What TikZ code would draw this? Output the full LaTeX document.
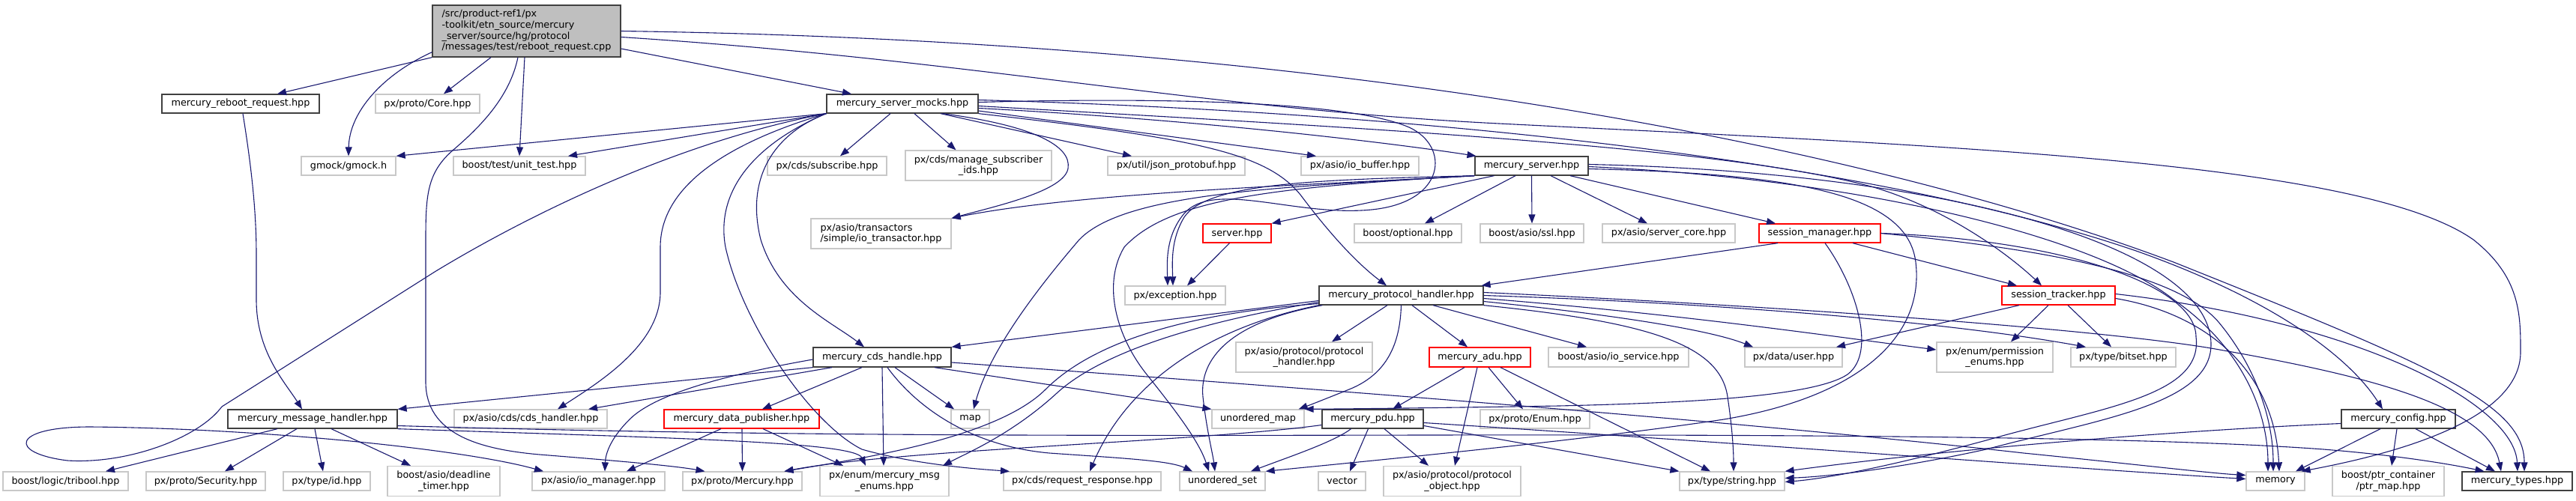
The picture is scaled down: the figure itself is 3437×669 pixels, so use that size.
\documentclass[tikz,border=0pt]{standalone}
\usepackage{fontspec}
\setmainfont{DejaVu Sans}
\usepackage{tikz}
\usetikzlibrary{arrows.meta}
\definecolor{depblue}{RGB}{25,25,112}
\definecolor{extgray}{RGB}{200,200,200}
\definecolor{rootgray}{RGB}{191,191,191}
\newcommand{\dxfont}{\fontsize{12.8}{14.7}\selectfont}

\begin{document}
\begin{tikzpicture}[x=1pt,y=-1pt,
    every node/.style={font=\dxfont,inner sep=0pt,minimum height=25pt,align=center},
    inc/.style={draw=black!75,line width=1.3pt},
    ext/.style={draw=extgray,line width=1.3pt},
    bad/.style={draw=red,line width=1.3pt},
    rootbox/.style={draw=black!75,line width=1.3pt,fill=rootgray,align=left},
    dep/.style={depblue,line width=1.1pt,-{Triangle[length=12pt,width=9pt]}}]
    \useasboundingbox (0,0) rectangle (3437,669);

    % Files
    \node[rootbox,minimum width=251pt,minimum height=69pt] (root) at (702.5,41.5)
      {/src/product-ref1/px\\-toolkit/etn\_source/mercury\\\_server/source/hg/protocol\\/messages/test/reboot\_request.cpp};
    \node[inc,minimum width=210pt] (rebootreq) at (321,138.5) {mercury\_reboot\_request.hpp};
    \node[ext,minimum width=139pt] (core) at (570.5,138.5) {px/proto/Core.hpp};
    \node[inc,minimum width=202pt] (mocks) at (1204,138.5) {mercury\_server\_mocks.hpp};

    \node[ext,minimum width=126pt] (gmock) at (465,221.5) {gmock/gmock.h};
    \node[ext,minimum width=176pt] (unittest) at (693,221.5) {boost/test/unit\_test.hpp};
    \node[ext,minimum width=159pt] (subscribe) at (1103.5,221.5) {px/cds/subscribe.hpp};
    \node[ext,minimum width=195pt,minimum height=40pt] (managesub) at (1305.5,221) {px/cds/manage\_subscriber\\\_ids.hpp};
    \node[ext,minimum width=183pt] (jsonpb) at (1569.5,221.5) {px/util/json\_protobuf.hpp};
    \node[ext,minimum width=157pt] (iobuffer) at (1814.5,221.5) {px/asio/io\_buffer.hpp};
    \node[inc,minimum width=151pt] (mserver) at (2043.5,221.5) {mercury\_server.hpp};

    \node[ext,minimum width=187pt,minimum height=40pt,align=left] (transactor) at (1175.5,312) {px/asio/transactors\\/simple/io\_transactor.hpp};
    \node[bad,minimum width=91pt] (serverhpp) at (1650.5,311.5) {server.hpp};
    \node[ext,minimum width=143pt] (optional) at (1878.5,311.5) {boost/optional.hpp};
    \node[ext,minimum width=138pt] (ssl) at (2044,311.5) {boost/asio/ssl.hpp};
    \node[ext,minimum width=177pt] (servercore) at (2226.5,311.5) {px/asio/server\_core.hpp};
    \node[bad,minimum width=162pt] (sessmgr) at (2428,311.5) {session\_manager.hpp};

    \node[ext,minimum width=134pt] (exception) at (1568,394.5) {px/exception.hpp};
    \node[inc,minimum width=219pt] (prothandler) at (1869.5,394.5) {mercury\_protocol\_handler.hpp};
    \node[bad,minimum width=151pt] (sesstracker) at (2746.5,394.5) {session\_tracker.hpp};

    \node[inc,minimum width=184pt,minimum height=26pt] (cdshandle) at (1177,477) {mercury\_cds\_handle.hpp};
    \node[ext,minimum width=182pt,minimum height=40pt] (pxprothandler) at (1740,477) {px/asio/protocol/protocol\\\_handler.hpp};
    \node[bad,minimum width=135pt,minimum height=26pt] (adu) at (1974.5,477) {mercury\_adu.hpp};
    \node[ext,minimum width=187pt,minimum height=26pt] (ioservice) at (2159.5,477) {boost/asio/io\_service.hpp};
    \node[ext,minimum width=130pt,minimum height=26pt] (user) at (2393,477) {px/data/user.hpp};
    \node[ext,minimum width=155pt,minimum height=40pt] (permenums) at (2661.5,477) {px/enum/permission\\\_enums.hpp};
    \node[ext,minimum width=140pt,minimum height=26pt] (bitset) at (2833,477) {px/type/bitset.hpp};

    \node[inc,minimum width=226pt] (msghandler) at (417,559.5) {mercury\_message\_handler.hpp};
    \node[ext,minimum width=204pt] (cdshandler) at (708,559.5) {px/asio/cds/cds\_handler.hpp};
    \node[bad,minimum width=207pt] (datapub) at (989.5,559.5) {mercury\_data\_publisher.hpp};
    \node[ext,minimum width=51pt] (map) at (1294.5,559.5) {map};
    \node[ext,minimum width=123pt] (umap) at (1678.5,559.5) {unordered\_map};
    \node[inc,minimum width=135pt] (pdu) at (1831.5,559.5) {mercury\_pdu.hpp};
    \node[ext,minimum width=146pt] (enumhpp) at (2048,559.5) {px/proto/Enum.hpp};
    \node[inc,minimum width=152pt] (config) at (3200,559.5) {mercury\_config.hpp};

    \node[ext,minimum width=167pt] (tribool) at (87.5,642.5) {boost/logic/tribool.hpp};
    \node[ext,minimum width=159pt] (security) at (274.5,642.5) {px/proto/Security.hpp};
    \node[ext,minimum width=116pt] (idhpp) at (436,642.5) {px/type/id.hpp};
    \node[ext,minimum width=150pt,minimum height=40pt] (deadline) at (592,642.5) {boost/asio/deadline\\\_timer.hpp};
    \node[ext,minimum width=177pt] (iomanager) at (798.5,642.5) {px/asio/io\_manager.hpp};
    \node[ext,minimum width=159pt] (mercuryproto) at (990.5,642.5) {px/proto/Mercury.hpp};
    \node[ext,minimum width=172pt,minimum height=40pt] (msgenums) at (1180,642.5) {px/enum/mercury\_msg\\\_enums.hpp};
    \node[ext,minimum width=210pt] (reqresp) at (1444,642.5) {px/cds/request\_response.hpp};
    \node[ext,minimum width=114pt] (uset) at (1631,642.5) {unordered\_set};
    \node[ext,minimum width=63pt] (vector) at (1790.5,642.5) {vector};
    \node[ext,minimum width=183pt,minimum height=40pt] (protobj) at (1937.5,642.5) {px/asio/protocol/protocol\\\_object.hpp};
    \node[ext,minimum width=140pt] (string) at (2311,642.5) {px/type/string.hpp};
    \node[ext,minimum width=78pt] (memory) at (3036,642.5) {memory};
    \node[ext,minimum width=149pt,minimum height=40pt] (ptrmap) at (3186.5,642.5) {boost/ptr\_container\\/ptr\_map.hpp};
    \node[inc,minimum width=147pt] (types) at (3358.5,642.5) {mercury\_types.hpp};

    % reboot_request.cpp
    \draw[dep] (root.south west) -- ([xshift=49pt]rebootreq.north);
    \draw[dep] ([yshift=7pt]root.south west) .. controls (510,100) and (466,150) .. (gmock.north);
    \draw[dep] ([xshift=-47.5pt]root.south) -- ([xshift=21.5pt]core.north);
    \draw[dep] ([xshift=-2.5pt]root.south) -- (unittest.north);
    \draw[dep] ([xshift=-11.5pt]root.south) .. controls (680,130) and (640,170) .. (605,200)
      .. controls (570,230) and (568,260) .. (568,320) -- (568,510)
      .. controls (568,580) and (640,600) .. (720,607) .. controls (820,615) and (900,622) .. ([xshift=-50pt]mercuryproto.north);
    \draw[dep] ([yshift=-23.5pt]root.east) -- ([xshift=-68pt]mocks.north);
    \draw[dep] (root.east) .. controls (1800,55) and (2500,200) .. (2900,350)
      .. controls (3250,490) and (3368,540) .. ([xshift=9.5pt]types.north);
    \draw[dep] ([yshift=-8pt]root.east) .. controls (1300,80) and (1600,145) .. (2000,165)
      .. controls (2600,195) and (3150,215) .. (3300,320) .. controls (3363,370) and (3363,420) .. (3363,470)
      .. controls (3363,560) and (3200,605) .. ([xshift=-5pt]memory.north east);
    \draw[dep] ([xshift=3pt]rebootreq.south) .. controls (335,220) and (342,280) .. (342,340) -- (342,400)
      .. controls (342,470) and (380,510) .. ([xshift=-14pt]msghandler.north);

    % mercury_server_mocks.hpp
    \draw[dep] (mocks.south west) -- (gmock.north east);
    \draw[dep] (mocks.south west) -- ([xshift=65pt]unittest.north);
    \draw[dep] (mocks.south west) .. controls (900,190) and (700,290) .. (580,363) -- (296,543)
      .. controls (265,585) and (170,620) .. (90,615) .. controls (10,605) and (15,570) .. (120,570)
      .. controls (350,572) and (620,600) .. ([xshift=-73.5pt]iomanager.north);
    \draw[dep] ([xshift=-16pt]mocks.south) -- ([xshift=17.5pt]subscribe.north);
    \draw[dep] ([xshift=16pt]mocks.south) -- ([xshift=-30pt]managesub.north);
    \draw[dep] ([xshift=51pt]mocks.south) -- ([xshift=-59.5pt]jsonpb.north);
    \draw[dep] ([yshift=-9.5pt]mocks.east) -- ([xshift=-58.5pt]iobuffer.north);
    \draw[dep] ([yshift=-6pt]mocks.east) .. controls (1600,160) and (1850,190) .. ([xshift=-74pt]mserver.north);
    \draw[dep] ([xshift=54pt]mocks.south) .. controls (1380,168) and (1430,195) .. (1425,225)
      .. controls (1420,255) and (1330,275) .. (transactor.north east);
    \draw[dep] (mocks.south east) .. controls (1600,185) and (1690,205) .. (1735,260)
      .. controls (1780,320) and (1815,355) .. ([xshift=-19.5pt]prothandler.north);
    \draw[dep] ([yshift=2pt]mocks.east) .. controls (1550,130) and (1800,135) .. (1880,170)
      .. controls (1935,195) and (1930,270) .. (1830,280) .. controls (1730,290) and (1620,240) .. (1580,285)
      .. controls (1555,315) and (1557,350) .. ([xshift=-10pt]exception.north);
    \draw[dep] (mocks.south west) .. controls (990,185) and (881,240) .. (881,330) -- (881,390)
      .. controls (881,460) and (800,510) .. ([xshift=36pt]cdshandler.north);
    \draw[dep] (mocks.south west) .. controls (1000,195) and (955,260) .. (968,330)
      .. controls (990,430) and (1080,565) .. (1150,600) .. controls (1220,620) and (1300,626) .. ([xshift=-97pt]reqresp.north);
    \draw[dep] (mocks.south west) .. controls (1030,180) and (995,240) .. (1015,320)
      .. controls (1040,400) and (1110,430) .. ([xshift=-24pt]cdshandle.north);
    \draw[dep] ([yshift=5pt]mocks.east) .. controls (1900,150) and (2500,215) .. (2850,335)
      .. controls (3020,395) and (3130,470) .. ([xshift=-21pt]config.north);
    \draw[dep] ([yshift=-3pt]mocks.east) .. controls (1800,170) and (2300,195) .. (2500,250)
      .. controls (2600,280) and (2680,340) .. ([xshift=-22.5pt]sesstracker.north);

    % mercury_server.hpp
    \draw[dep] (mserver.south west) .. controls (1800,245) and (1450,255) .. (transactor.north east);
    \draw[dep] ([xshift=-50pt]mserver.south) -- (serverhpp.north east);
    \draw[dep] (mserver.south west) .. controls (1700,250) and (1500,258) .. (1440,320)
      .. controls (1380,390) and (1320,470) .. ([xshift=4.5pt]map.north);
    \draw[dep] (mserver.south west) .. controls (1750,240) and (1610,245) .. (1580,290)
      .. controls (1562,320) and (1564,350) .. ([xshift=-3pt]exception.north);
    \draw[dep] (mserver.south west) .. controls (1700,250) and (1560,265) .. (1500,330)
      .. controls (1470,380) and (1490,450) .. (1530,500) .. controls (1570,550) and (1600,590) .. ([xshift=-18pt]uset.north);
    \draw[dep] ([xshift=-21.5pt]mserver.south) -- ([xshift=22.5pt]optional.north);
    \draw[dep] (mserver.south) -- (ssl.north);
    \draw[dep] ([xshift=25.5pt]mserver.south) -- ([xshift=-28.5pt]servercore.north);
    \draw[dep] ([xshift=51.5pt]mserver.south) -- ([xshift=-59pt]sessmgr.north);
    \draw[dep] ([yshift=-4pt]mserver.east) .. controls (2400,232) and (2545,260) .. (2556,350)
      .. controls (2568,450) and (2480,530) .. (2300,560) .. controls (2100,590) and (1800,618) .. (uset.north east);
    \draw[dep] ([yshift=-1pt]mserver.east) .. controls (2500,240) and (2800,320) .. (2900,400)
      .. controls (3000,470) and (3026,560) .. ([xshift=-10pt]memory.north);
    \draw[dep] ([yshift=2pt]mserver.east) .. controls (2600,230) and (2950,330) .. (2950,460)
      .. controls (2950,540) and (2800,560) .. (2650,600) .. controls (2550,622) and (2450,636) .. ([yshift=4pt]string.east);
    \draw[dep] ([xshift=-10pt]serverhpp.south) -- ([xshift=16pt]exception.north);

    % session_manager.hpp
    \draw[dep] ([xshift=-56pt]sessmgr.south) -- ([xshift=-3pt]prothandler.north east);
    \draw[dep] ([xshift=44pt]sessmgr.south) -- ([xshift=-55.5pt]sesstracker.north);
    \draw[dep] ([xshift=7pt]sessmgr.south) .. controls (2475,380) and (2505,470) .. (2465,500)
      .. controls (2420,530) and (2250,538) .. (2080,542) .. controls (1900,545) and (1790,546) .. (umap.north east);
    \draw[dep] (sessmgr.east) .. controls (2700,330) and (2900,360) .. (2960,430)
      .. controls (3010,490) and (3033,560) .. ([xshift=-3pt]memory.north);
    \draw[dep] (sessmgr.east) .. controls (2750,320) and (2930,380) .. (2930,450)
      .. controls (2940,530) and (2800,545) .. (2650,588) .. controls (2550,615) and (2450,638) .. ([yshift=-1pt]string.east);

    % session_tracker.hpp
    \draw[dep] ([xshift=-52.5pt]sesstracker.south) -- ([xshift=57pt]user.north);
    \draw[dep] ([xshift=-13.5pt]sesstracker.south) -- ([xshift=21.5pt]permenums.north);
    \draw[dep] ([xshift=12.5pt]sesstracker.south) -- ([xshift=-16pt]bitset.north);
    \draw[dep] ([yshift=-4pt]sesstracker.east) .. controls (2950,420) and (3035,500) .. ([xshift=5pt]memory.north);
    \draw[dep] ([yshift=2pt]sesstracker.east) .. controls (3150,430) and (3355,540) .. ([xshift=0.5pt]types.north);

    % mercury_protocol_handler.hpp
    \draw[dep] ([xshift=-18.5pt]prothandler.south) -- ([xshift=37pt]pxprothandler.north);
    \draw[dep] ([xshift=14.5pt]prothandler.south) -- ([xshift=-16.5pt]adu.north);
    \draw[dep] ([xshift=42.5pt]prothandler.south) -- ([xshift=-42.5pt]ioservice.north);
    \draw[dep] (prothandler.south) .. controls (1868,460) and (1850,500) .. (1800,520)
      .. controls (1770,532) and (1750,540) .. ([xshift=-8pt]umap.north east);
    \draw[dep] ([yshift=-7pt]prothandler.west) -- (cdshandle.north east);
    \draw[dep] ([yshift=-9pt]prothandler.west) .. controls (1600,430) and (1470,470) .. (1410,525)
      .. controls (1350,580) and (1290,605) .. ([xshift=78pt]msgenums.north);
    \draw[dep] ([yshift=-11pt]prothandler.west) .. controls (1560,420) and (1450,465) .. (1395,520)
      .. controls (1330,585) and (1150,612) .. ([xshift=56pt]mercuryproto.north);
    \draw[dep] (prothandler.south west) .. controls (1600,440) and (1500,520) .. ([xshift=10pt]reqresp.north);
    \draw[dep] ([xshift=5pt]prothandler.south west) .. controls (1640,430) and (1600,480) .. (1605,530)
      .. controls (1610,575) and (1618,605) .. ([xshift=-10pt]uset.north);
    \draw[dep] ([yshift=-8pt]prothandler.east) .. controls (2150,420) and (2280,440) .. ([xshift=-54pt]user.north);
    \draw[dep] ([yshift=-4pt]prothandler.east) .. controls (2250,420) and (2450,450) .. ([yshift=10pt]permenums.west);
    \draw[dep] (prothandler.east) .. controls (2300,405) and (2600,430) .. ([xshift=-50pt]bitset.north);
    \draw[dep] ([yshift=4pt]prothandler.east) .. controls (2400,410) and (2800,440) .. (2950,465)
      .. controls (3150,500) and (3320,540) .. ([xshift=-21.5pt]types.north);
    \draw[dep] (prothandler.south east) .. controls (2200,430) and (2295,460) .. (2305,530)
      .. controls (2311,570) and (2313,600) .. ([xshift=2pt]string.north);

    % mercury_adu.hpp and mercury_pdu.hpp
    \draw[dep] ([xshift=-20.5pt]adu.south) -- ([xshift=26.5pt]pdu.north);
    \draw[dep] ([xshift=-3.5pt]adu.south) -- ([xshift=3.5pt]protobj.north);
    \draw[dep] ([xshift=11.5pt]adu.south) -- ([xshift=-16pt]enumhpp.north);
    \draw[dep] ([xshift=27.5pt]adu.south) -- ([xshift=-29pt]string.north);
    \draw[dep] ([xshift=-6pt]pdu.south) -- ([xshift=10.5pt]vector.north);
    \draw[dep] ([xshift=15.5pt]pdu.south) -- ([xshift=-31.5pt]protobj.north);
    \draw[dep] ([yshift=-9pt]pdu.east) -- (string.north west);
    \draw[dep] ([yshift=-5pt]pdu.east) .. controls (2300,590) and (2800,628) .. ([yshift=3pt]memory.west);
    \draw[dep] ([xshift=-29pt]pdu.south) .. controls (1780,590) and (1720,610) .. ([xshift=38pt]uset.north);
    \draw[dep] ([yshift=-8pt]pdu.west) .. controls (1600,590) and (1200,600) .. ([xshift=56pt]mercuryproto.north);

    % mercury_cds_handle.hpp
    \draw[dep] (cdshandle.south west) -- (msghandler.north east);
    \draw[dep] ([xshift=-67pt]cdshandle.south) -- ([xshift=77pt]cdshandler.north);
    \draw[dep] ([yshift=-3pt]cdshandle.west) .. controls (1000,495) and (880,520) .. (840,560)
      .. controls (815,585) and (808,605) .. ([xshift=8.5pt]iomanager.north);
    \draw[dep] ([xshift=-27pt]cdshandle.south) -- ([xshift=27.5pt]datapub.north);
    \draw[dep] (cdshandle.south) -- ([xshift=-1pt]msgenums.north);
    \draw[dep] ([xshift=17pt]cdshandle.south) -- ([xshift=-21.5pt]map.north);
    \draw[dep] ([xshift=7pt]cdshandle.south) .. controls (1220,540) and (1290,595) .. (1400,605)
      .. controls (1500,612) and (1560,615) .. ([xshift=-40pt]uset.north);
    \draw[dep] ([xshift=70pt]cdshandle.south) -- (umap.north west);
    \draw[dep] ([yshift=-7pt]cdshandle.east) .. controls (1700,515) and (2300,560) .. (2700,605)
      .. controls (2850,620) and (2950,632) .. ([yshift=8pt]memory.west);

    % mercury_data_publisher.hpp
    \draw[dep] ([xshift=-27.5pt]datapub.south) -- ([xshift=37.5pt]iomanager.north);
    \draw[dep] ([xshift=0.5pt]datapub.south) -- (mercuryproto.north);
    \draw[dep] ([xshift=28.5pt]datapub.south) -- ([xshift=-55pt]msgenums.north);

    % mercury_message_handler.hpp
    \draw[dep] ([xshift=-47pt]msghandler.south) -- ([xshift=53.5pt]tribool.north);
    \draw[dep] ([xshift=-21pt]msghandler.south) -- ([xshift=25.5pt]security.north);
    \draw[dep] ([xshift=3pt]msghandler.south) -- ([xshift=-5pt]idhpp.north);
    \draw[dep] ([xshift=25pt]msghandler.south) -- ([xshift=-44pt]deadline.north);
    \draw[dep] (msghandler.south east) .. controls (900,585) and (1140,590) .. ([xshift=-25pt]msgenums.north);
    \draw[dep] ([yshift=-9pt]msghandler.east) .. controls (1000,582) and (1400,582) .. (1900,581)
      .. controls (2500,580) and (2900,585) .. (3100,600) .. controls (3200,608) and (3270,620) .. ([xshift=-44pt]types.north);

    % mercury_config.hpp
    \draw[dep] ([xshift=-24pt]config.south) -- ([xshift=27pt]memory.north);
    \draw[dep] ([xshift=-2pt]config.south) -- ([xshift=4.5pt]ptrmap.north);
    \draw[dep] ([xshift=23pt]config.south) -- ([xshift=-29.5pt]types.north);
    \draw[dep] ([yshift=-6pt]config.west) .. controls (2900,575) and (2600,600) .. (string.north east);
  \end{tikzpicture}
\end{document}
